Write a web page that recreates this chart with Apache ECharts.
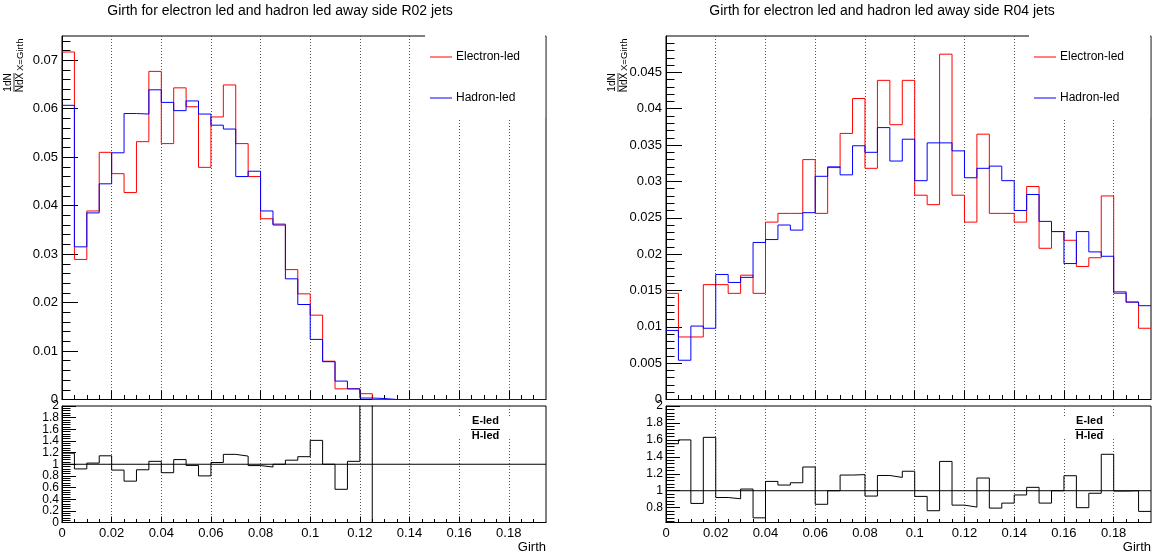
<!DOCTYPE html>
<html>
<head>
<meta charset="utf-8">
<script src="https://cdn.jsdelivr.net/npm/echarts@6/dist/echarts.min.js"></script>
<style>
  html, body { margin: 0; padding: 0; background: #fff; }
  #chart { width: 1154px; height: 558px; }
</style>
</head>
<body>
<div id="chart"></div>
<script>
// Girth bin edges: 39 bins of width 0.005 from 0 to 0.195
const girthEdges = [0, 0.005, 0.01, 0.015, 0.02, 0.025, 0.03, 0.035, 0.04, 0.045,
  0.05, 0.055, 0.06, 0.065, 0.07, 0.075, 0.08, 0.085, 0.09, 0.095,
  0.1, 0.105, 0.11, 0.115, 0.12, 0.125, 0.13, 0.135, 0.14, 0.145,
  0.15, 0.155, 0.16, 0.165, 0.17, 0.175, 0.18, 0.185, 0.19, 0.195];

// R02 jets: normalised girth distributions
const r02Electron = [0.0717, 0.0289, 0.0389, 0.0510, 0.0466, 0.0427, 0.0532, 0.0677, 0.0528, 0.0643,
  0.0604, 0.0479, 0.0583, 0.0649, 0.0528, 0.0460, 0.0373, 0.0362, 0.0268, 0.0218,
  0.0174, 0.0079, 0.0022, 0.0022, 0.0012, 0, 0, 0, 0, 0,
  0, 0, 0, 0, 0, 0, 0, 0, 0];
const r02Hadron = [0.0607, 0.0315, 0.0385, 0.0445, 0.0509, 0.0590, 0.0589, 0.0639, 0.0613, 0.0596,
  0.0616, 0.0589, 0.0566, 0.0558, 0.0460, 0.0471, 0.0389, 0.0360, 0.0249, 0.0196,
  0.0124, 0.0078, 0.0038, 0.0022, 0.0003, 0.0002, 0, 0, 0, 0,
  0, 0, 0, 0, 0, 0, 0, 0, 0];
const r02Ratio = [1.19, 0.92, 1.02, 1.145, 0.90, 0.71, 0.905, 1.05, 0.855, 1.08,
  0.98, 0.80, 1.03, 1.17, 1.14, 0.977, 0.953, 1.0, 1.07, 1.13,
  1.41, 1.0, 0.57, 1.05, 4.0, 0, 0, 0, 0, 0,
  0, 0, 0, 0, 0, 0, 0, 0, 0];

// R04 jets: normalised girth distributions
const r04Electron = [0.0146, 0.0086, 0.0086, 0.0158, 0.0158, 0.0146, 0.0171, 0.0146, 0.0244, 0.0256,
  0.0256, 0.0330, 0.0256, 0.0319, 0.0366, 0.0414, 0.0318, 0.0439, 0.0378, 0.0439,
  0.0281, 0.0268, 0.0475, 0.0281, 0.0244, 0.0365, 0.0256, 0.0256, 0.0244, 0.0293,
  0.0208, 0.0231, 0.0219, 0.0183, 0.0195, 0.0280, 0.0146, 0.0134, 0.0098];
const r04Hadron = [0.0095, 0.0054, 0.0101, 0.0098, 0.0172, 0.0161, 0.0168, 0.0216, 0.0220, 0.0240,
  0.0233, 0.0257, 0.0307, 0.0320, 0.0309, 0.0349, 0.0340, 0.0374, 0.0328, 0.0358,
  0.0301, 0.0353, 0.0353, 0.0342, 0.0305, 0.0318, 0.0321, 0.0301, 0.0260, 0.0282,
  0.0245, 0.0231, 0.0187, 0.0231, 0.0203, 0.0197, 0.0148, 0.0134, 0.0129];
const r04Ratio = [1.555, 1.60, 0.85, 1.63, 0.92, 0.905, 1.02, 0.68, 1.11, 1.067,
  1.094, 1.28, 0.84, 1.0, 1.185, 1.19, 0.937, 1.18, 1.157, 1.23,
  0.933, 0.764, 1.346, 0.83, 0.807, 1.15, 0.795, 0.854, 0.95, 1.04,
  0.854, 1.0, 1.177, 0.80, 0.97, 1.43, 0.996, 1.0, 0.756];

// Axis tick labels
const girthTicks = [0, 0.02, 0.04, 0.06, 0.08, 0.1, 0.12, 0.14, 0.16, 0.18];
const r02YTicks = [0, 0.01, 0.02, 0.03, 0.04, 0.05, 0.06, 0.07];
const r04YTicks = [0, 0.005, 0.01, 0.015, 0.02, 0.025, 0.03, 0.035, 0.04, 0.045];
const r02RatioTicks = [0, 0.2, 0.4, 0.6, 0.8, 1, 1.2, 1.4, 1.6, 1.8, 2];
const r04RatioTicks = [0.8, 1, 1.2, 1.4, 1.6, 1.8, 2];

const titles = [
  'Girth for electron led and hadron led away side R02 jets',
  'Girth for electron led and hadron led away side R04 jets'
];

const FONT = "'Liberation Sans', Arial, Helvetica, sans-serif";
const X_MAX = 0.195;

// Minor ticks between labelled ones
function minorTicks(step, lo, hi, every) {
  const out = [];
  for (let k = Math.round(lo / step); k * step <= hi + 1e-9; k++) {
    if (k % every !== 0) out.push(+(k * step).toFixed(4));
  }
  return out;
}
const girthMinor = girthEdges.filter(v => girthTicks.indexOf(v) < 0 && v < X_MAX);

// Histogram outline points: one point per bin low edge, plus the final upper edge
function histPoints(values) {
  const pts = values.map((v, i) => [girthEdges[i], v]);
  pts.push([girthEdges[values.length], values[values.length - 1]]);
  return pts;
}
const fmt = v => String(+(+v).toFixed(4));

const panels = [
  {
    left: 62, width: 484, titleX: 280,
    yMax: 0.075, yTicks: r02YTicks, yMinor: minorTicks(0.002, 0, 0.075, 5),
    rMin: 0, rTicks: r02RatioTicks, rMinor: minorTicks(0.04, 0, 2, 5),
    electron: r02Electron, hadron: r02Hadron, ratio: r02Ratio
  },
  {
    left: 666, width: 485, titleX: 882,
    yMax: 0.05, yTicks: r04YTicks, yMinor: minorTicks(0.001, 0, 0.05, 5),
    rMin: 0.625, rTicks: r04RatioTicks, rMinor: minorTicks(0.04, 0.64, 2, 5),
    electron: r04Electron, hadron: r04Hadron, ratio: r04Ratio
  }
];

const MAIN_TOP = 36, MAIN_H = 363.5, RATIO_TOP = 406, RATIO_H = 116.5;

const grid = [], xAxis = [], yAxis = [], series = [], graphic = [];

function addAxes(g, isMain, yMin, yMax, yMajor, yMinorVals) {
  xAxis.push({
    gridIndex: g, type: 'value', min: 0, max: X_MAX, position: 'bottom',
    axisLine: { show: true, onZero: false, lineStyle: { color: '#000', width: 1 } },
    axisTick: { show: true, inside: true, length: isMain ? 9 : 6, customValues: girthTicks,
      lineStyle: { color: '#000', width: 1 } },
    axisLabel: { show: !isMain, customValues: girthTicks, formatter: fmt, color: '#000',
      fontSize: 13, fontFamily: FONT, margin: 4, showMinLabel: true, showMaxLabel: true },
    splitLine: { show: true, lineStyle: { color: '#555', type: [1, 2], width: 1 } }
  });
  xAxis.push({
    gridIndex: g, type: 'value', min: 0, max: X_MAX, position: 'bottom',
    axisLine: { show: false },
    axisTick: { show: true, inside: true, length: isMain ? 4.5 : 3.5, customValues: girthMinor,
      lineStyle: { color: '#000', width: 1 } },
    axisLabel: { show: false }, splitLine: { show: false }
  });
  yAxis.push({
    gridIndex: g, type: 'value', min: yMin, max: yMax, position: 'left',
    axisLine: { show: true, onZero: false, lineStyle: { color: '#000', width: 1 } },
    axisTick: { show: true, inside: true, length: isMain ? 16 : 14, customValues: yMajor,
      lineStyle: { color: '#000', width: 1 } },
    // ratio pad labels are tightly packed; they are placed separately below
    axisLabel: { show: isMain, customValues: yMajor, formatter: fmt, color: '#000',
      fontSize: 13, fontFamily: FONT, margin: 4, showMinLabel: true, showMaxLabel: true },
    splitLine: { show: false }
  });
  yAxis.push({
    gridIndex: g, type: 'value', min: yMin, max: yMax, position: 'left',
    axisLine: { show: false },
    axisTick: { show: true, inside: true, length: 8.5, customValues: yMinorVals,
      lineStyle: { color: '#000', width: 1 } },
    axisLabel: { show: false }, splitLine: { show: false }
  });
}

function stepSeries(axisIdx, values, color) {
  return {
    type: 'line', xAxisIndex: axisIdx, yAxisIndex: axisIdx, step: 'end',
    data: histPoints(values), showSymbol: false, symbol: 'none', clip: true,
    lineStyle: { color: color, width: 1 }, silent: true, animation: false
  };
}

panels.forEach((p, i) => {
  const gMain = 2 * i, gRatio = 2 * i + 1;
  grid.push({ left: p.left, top: MAIN_TOP, width: p.width, height: MAIN_H,
    show: true, borderColor: '#000', borderWidth: 1, backgroundColor: 'transparent' });
  grid.push({ left: p.left, top: RATIO_TOP, width: p.width, height: RATIO_H,
    show: true, borderColor: '#000', borderWidth: 1, backgroundColor: 'transparent' });

  addAxes(gMain, true, 0, p.yMax, p.yTicks, p.yMinor);
  addAxes(gRatio, false, p.rMin, 2, p.rTicks, p.rMinor);

  const aMain = 2 * gMain, aRatio = 2 * gRatio;
  p.ratioAxis = aRatio;
  series.push(stepSeries(aMain, p.electron, '#ff0000'));
  series.push(stepSeries(aMain, p.hadron, '#0000ff'));
  series.push(stepSeries(aRatio, p.ratio, '#000000'));
  series.push({
    type: 'line', xAxisIndex: aRatio, yAxisIndex: aRatio,
    data: [[0, 1], [X_MAX, 1]], showSymbol: false, symbol: 'none',
    lineStyle: { color: '#000', width: 1 }, silent: true, animation: false
  });

  const right = p.left + p.width;

  // Title
  graphic.push({ type: 'text', x: p.titleX, y: 11, z: 10,
    style: { text: titles[i], fill: '#000', font: '14px ' + FONT, textAlign: 'center', textVerticalAlign: 'middle' } });

  // Legend box (white, hides grid lines under it)
  graphic.push({ type: 'rect', z: 1, shape: { x: p.left + 363, y: 30, width: right - 0.8 - (p.left + 363), height: 88 },
    style: { fill: '#fff' } });
  const legend = [['Electron-led', '#ff0000', 57], ['Hadron-led', '#0000ff', 98]];
  legend.forEach(([label, color, y]) => {
    graphic.push({ type: 'line', z: 10, shape: { x1: p.left + 368, y1: y, x2: p.left + 390, y2: y },
      style: { stroke: color, lineWidth: 1 } });
    graphic.push({ type: 'text', x: p.left + 394, y: y, z: 10,
      style: { text: label, fill: '#000', font: '12px ' + FONT, textAlign: 'left', textVerticalAlign: 'middle' } });
  });

  // Ratio label E-led / H-led
  const cx = p.left + 423.5;
  graphic.push({ type: 'rect', z: 1, shape: { x: cx - 28, y: 416, width: 56, height: 21 }, style: { fill: '#fff' } });
  graphic.push({ type: 'text', x: cx, y: 421.3, z: 10,
    style: { text: 'E-led', fill: '#000', font: 'bold 11px ' + FONT, textAlign: 'center', textVerticalAlign: 'middle' } });
  graphic.push({ type: 'line', z: 10, shape: { x1: cx - 14.5, y1: 429.5, x2: cx + 14.5, y2: 429.5 },
    style: { stroke: '#000', lineWidth: 1 } });
  graphic.push({ type: 'text', x: cx, y: 435.8, z: 10,
    style: { text: 'H-led', fill: '#000', font: 'bold 11px ' + FONT, textAlign: 'center', textVerticalAlign: 'middle' } });

  // X axis title
  graphic.push({ type: 'text', x: right, y: 547, z: 10,
    style: { text: 'Girth', fill: '#000', font: '13px ' + FONT, textAlign: 'right', textVerticalAlign: 'middle' } });

  // Y axis title: (1/N)(dN/dX) with subscript X=Girth, rotated
  graphic.push({
    type: 'group', x: p.left - 48, y: 92, rotation: Math.PI / 2, z: 10,
    children: [
      { type: 'text', x: 9.5, y: -0.8, style: { text: '1dN', fill: '#000', font: '10px ' + FONT, textAlign: 'center', textVerticalAlign: 'bottom' } },
      { type: 'line', shape: { x1: 0, y1: 0, x2: 19, y2: 0 }, style: { stroke: '#000', lineWidth: 0.8 } },
      { type: 'text', x: 9.5, y: 1.6, style: { text: 'NdX', fill: '#000', font: '10px ' + FONT, textAlign: 'center', textVerticalAlign: 'top' } },
      { type: 'text', x: 21, y: 1.8, style: { text: 'X=Girth', fill: '#000', font: '9.5px ' + FONT, textAlign: 'left', textVerticalAlign: 'top' } }
    ]
  });
});

const chart = echarts.init(document.getElementById('chart'), null, { renderer: 'canvas' });
chart.setOption({
  backgroundColor: '#fff',
  animation: false,
  grid, xAxis, yAxis, series, graphic
});

// Ratio pad y labels, positioned through the ratio axes' own scales
panels.forEach(p => {
  p.rTicks.forEach(v => {
    const py = chart.convertToPixel({ yAxisIndex: p.ratioAxis }, v);
    graphic.push({ type: 'text', x: p.left - 3, y: py, z: 10,
      style: { text: fmt(v), fill: '#000', font: '12px ' + FONT, textAlign: 'right', textVerticalAlign: 'middle' } });
  });
});
chart.setOption({ graphic });
</script>
</body>
</html>
